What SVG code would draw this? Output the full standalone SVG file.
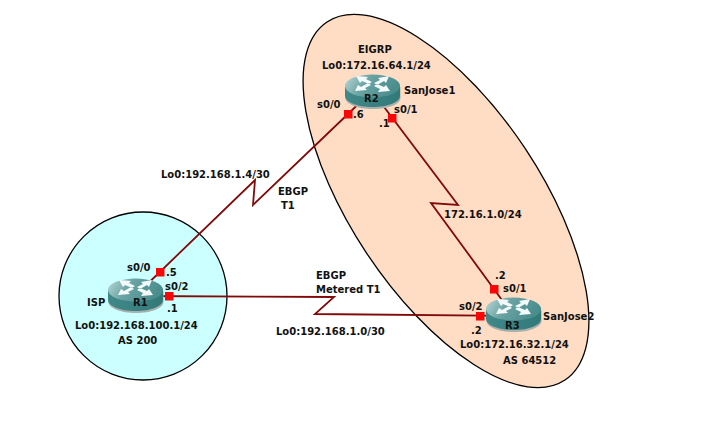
<svg xmlns="http://www.w3.org/2000/svg" width="703" height="446" viewBox="0 0 703 446">
<style>
text{font-family:"DejaVu Sans",Tahoma,sans-serif;font-size:10px;font-weight:bold;fill:#111;text-anchor:start}
.link{fill:none;stroke:#800a0a;stroke-width:1.800}
.port{fill:#f60808}
.wh{fill:#f4fafa}
</style>
<defs>
<linearGradient id="top" x1="0" y1="0" x2="1" y2="0.3"><stop offset="0" stop-color="#bcd8d8"/><stop offset="0.45" stop-color="#6aa3a3"/><stop offset="1" stop-color="#4a8d8d"/></linearGradient>
<linearGradient id="side" x1="0" y1="0" x2="1" y2="0"><stop offset="0" stop-color="#418888"/><stop offset="1" stop-color="#327a7a"/></linearGradient>
<g id="router">
<path d="M0 11V22C0 28 12 33 27.500 33S55 28 55 22V11Z" fill="#a8b0ae" transform="translate(0.500,1)"/>
<path d="M0 11V21C0 27 12 32 27.500 32S55 27 55 21V11Z" fill="url(#side)"/>
<ellipse cx="27.500" cy="11" rx="27.500" ry="11.500" fill="url(#top)"/>
<path class="wh" d="M11 1L23 2 21 4 27 7 24 9 17 6 15 8ZM44 1L33 3 35 5 29 8 32 10 39 6 41 8ZM10 16L22 15 20 13 26 10 23 8 16 12 13 10ZM45 16L33 17 35 14 29 11 32 9 39 12 41 10Z"/>
</g>
</defs>
<rect width="703" height="446" fill="#fff"/>
<g id="zones">
<ellipse id="zone-eigrp" cx="446" cy="201" rx="215" ry="95" transform="rotate(56.400 446 201)" fill="#ffdcc4" stroke="#000" stroke-width="1.300"/>
<circle id="zone-isp" cx="143" cy="296" r="84" fill="#ccffff" stroke="#000" stroke-width="1.300"/>
</g>
<g id="connectors">
<path class="link" d="M135 296L255 180 253 205 372 91"/>
<path class="link" d="M135 296L334 297 315 314 513 316"/>
<path class="link" d="M372 91L458 205 431 203 513 315"/>
</g>
<g id="R2"><use href="#router" x="345" y="75"/><text x="364" y="102">R2</text><text x="358" y="53">EIGRP</text><text x="322" y="69">Lo0:172.16.64.1/24</text><text x="404" y="94">SanJose1</text></g>
<g id="R1"><use href="#router" x="108" y="279"/><text x="133" y="306">R1</text><text x="87" y="306">ISP</text><text x="75" y="329">Lo0:192.168.100.1/24</text><text x="118" y="344">AS 200</text></g>
<g id="R3"><use href="#router" x="486" y="298"/><text x="505" y="329">R3</text><text x="543" y="320">SanJose2</text><text x="460" y="348">Lo0:172.16.32.1/24</text><text x="503" y="364">AS 64512</text></g>
<g id="ports">
<rect class="port" x="344" y="110" width="8.500" height="8.500"/><rect class="port" x="388" y="114" width="8.500" height="8.500"/>
<rect class="port" x="156" y="268" width="8.500" height="8.500"/><rect class="port" x="165" y="292" width="8.500" height="8.500"/>
<rect class="port" x="490" y="285" width="8.500" height="8.500"/><rect class="port" x="476" y="312" width="8.500" height="8.500"/>
</g>
<g id="labels">
<text x="317" y="108">s0/0</text><text x="353" y="118">.6</text><text x="394" y="113">s0/1</text><text x="379" y="127">.1</text>
<text x="127" y="271">s0/0</text><text x="166" y="276">.5</text><text x="165" y="290">s0/2</text><text x="167" y="312">.1</text>
<text x="495" y="279">.2</text><text x="503" y="292">s0/1</text><text x="459" y="310">s0/2</text><text x="471" y="334">.2</text>
<text x="161" y="178">Lo0:192.168.1.4/30</text><text x="278" y="195">EBGP</text><text x="281" y="209">T1</text>
<text x="444" y="218">172.16.1.0/24</text>
<text x="316" y="279">EBGP</text><text x="316" y="293">Metered T1</text><text x="276" y="335">Lo0:192.168.1.0/30</text>
</g>
</svg>
